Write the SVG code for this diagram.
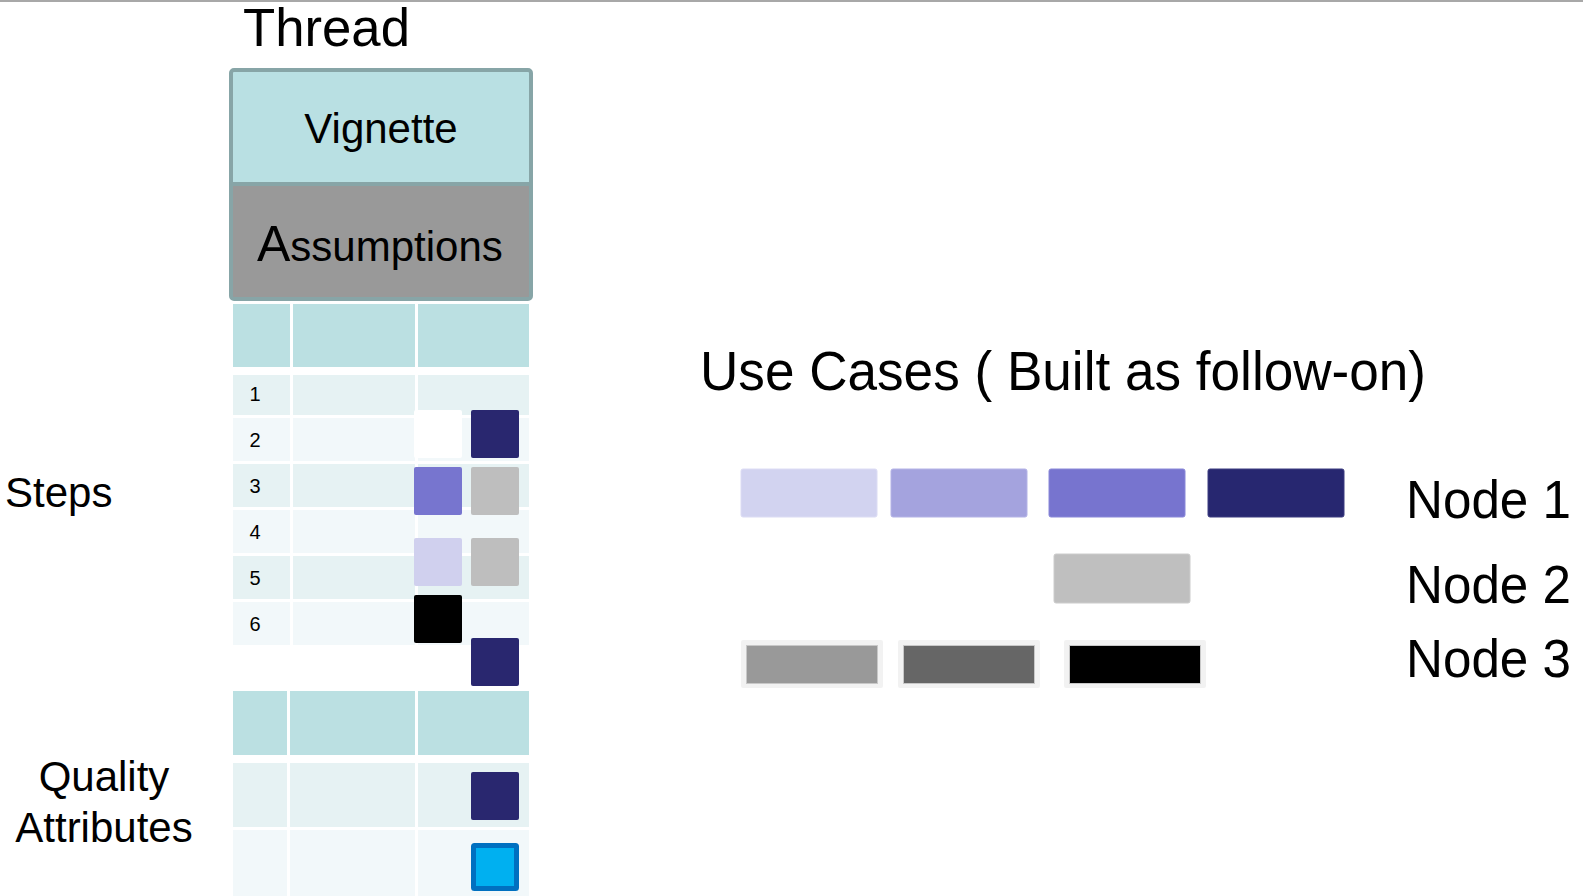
<svg xmlns="http://www.w3.org/2000/svg" width="1583" height="896" viewBox="0 0 1583 896">
<style>
text{font-family:"Liberation Sans",Arial,sans-serif;fill:#000}
.hdr{fill:#bbe0e2}
.dk{fill:#e6f2f3}
.lt{fill:#f2f8fa}
.num{font-size:20px;text-anchor:middle}
.lbl{font-size:42px}
.sq{stroke:none}
.bar{stroke-width:1}
.n3o{fill:#f2f2f2}
.n3i{stroke:#c8c8c8;stroke-width:1}
.node{font-size:53px}
</style>
<rect x="0" y="0" width="1583" height="896" fill="#ffffff"/>
<rect id="topline" x="0" y="0" width="1583" height="2" fill="#a8a8a8"/>

<g id="thread-title"><text x="243" y="46" font-size="53" textLength="167" lengthAdjust="spacingAndGlyphs">Thread</text></g>

<g id="vignette-assumptions">
  <rect x="231" y="70" width="300" height="114" fill="#b9e0e3"/>
  <rect x="231" y="184" width="300" height="115" fill="#999999"/>
  <rect x="231" y="70" width="300" height="229" rx="3" fill="none" stroke="#87a5a7" stroke-width="4"/>
  <line x1="231" y1="184" x2="531" y2="184" stroke="#87a5a7" stroke-width="4"/>
  <text x="381" y="143" font-size="42" text-anchor="middle">Vignette</text>
  <text x="257" y="261"><tspan font-size="50">A</tspan><tspan font-size="42">ssumptions</tspan></text>
</g>

<g id="steps-table">
  <rect class="hdr" x="233" y="304" width="57" height="63"/>
  <rect class="hdr" x="293" y="304" width="122" height="63"/>
  <rect class="hdr" x="418" y="304" width="111" height="63"/>

  <rect class="dk" x="233" y="375" width="57" height="40"/>
  <rect class="dk" x="293" y="375" width="122" height="40"/>
  <rect class="dk" x="418" y="375" width="111" height="40"/>

  <rect class="lt" x="233" y="418" width="57" height="43"/>
  <rect class="lt" x="293" y="418" width="122" height="43"/>
  <rect class="lt" x="418" y="418" width="111" height="43"/>

  <rect class="dk" x="233" y="464" width="57" height="43"/>
  <rect class="dk" x="293" y="464" width="122" height="43"/>
  <rect class="dk" x="418" y="464" width="111" height="43"/>

  <rect class="lt" x="233" y="510" width="57" height="43"/>
  <rect class="lt" x="293" y="510" width="122" height="43"/>
  <rect class="lt" x="418" y="510" width="111" height="43"/>

  <rect class="dk" x="233" y="556" width="57" height="43"/>
  <rect class="dk" x="293" y="556" width="122" height="43"/>
  <rect class="dk" x="418" y="556" width="111" height="43"/>

  <rect class="lt" x="233" y="602" width="57" height="43"/>
  <rect class="lt" x="293" y="602" width="122" height="43"/>
  <rect class="lt" x="418" y="602" width="111" height="43"/>

  <text class="num" x="255" y="401">1</text>
  <text class="num" x="255" y="447">2</text>
  <text class="num" x="255" y="493">3</text>
  <text class="num" x="255" y="539">4</text>
  <text class="num" x="255" y="585">5</text>
  <text class="num" x="255" y="631">6</text>

  <rect class="sq" x="414" y="410" width="48" height="48" rx="2" fill="#ffffff"/>
  <rect class="sq" x="471" y="410" width="48" height="48" rx="2" fill="#29276f"/>
  <rect class="sq" x="414" y="467" width="48" height="48" rx="2" fill="#7775cf"/>
  <rect class="sq" x="471" y="467" width="48" height="48" rx="2" fill="#bebebe"/>
  <rect class="sq" x="414" y="538" width="48" height="48" rx="2" fill="#d0d0ee"/>
  <rect class="sq" x="471" y="538" width="48" height="48" rx="2" fill="#bebebe"/>
  <rect class="sq" x="414" y="595" width="48" height="48" rx="2" fill="#000000"/>
  <rect class="sq" x="471" y="638" width="48" height="48" rx="2" fill="#29276f"/>
</g>

<g id="qa-table">
  <rect class="hdr" x="233" y="691" width="54" height="64"/>
  <rect class="hdr" x="290" y="691" width="125" height="64"/>
  <rect class="hdr" x="418" y="691" width="111" height="64"/>

  <rect class="dk" x="233" y="763" width="54" height="64"/>
  <rect class="dk" x="290" y="763" width="125" height="64"/>
  <rect class="dk" x="418" y="763" width="111" height="64"/>

  <rect class="lt" x="233" y="830" width="54" height="66"/>
  <rect class="lt" x="290" y="830" width="125" height="66"/>
  <rect class="lt" x="418" y="830" width="111" height="66"/>

  <rect class="sq" x="471" y="772" width="48" height="48" rx="2" fill="#29276f"/>
  <rect x="473.5" y="845.5" width="43" height="43" rx="1" fill="#00b0f0" stroke="#0070c0" stroke-width="5"/>
</g>

<g id="steps-label"><text class="lbl" x="5" y="507">Steps</text></g>
<g id="qa-label">
  <text class="lbl" x="104" y="791" text-anchor="middle">Quality</text>
  <text class="lbl" x="104" y="842" text-anchor="middle">Attributes</text>
</g>

<g id="use-cases-title"><text x="700" y="390" font-size="56" textLength="726" lengthAdjust="spacingAndGlyphs">Use Cases ( Built as follow-on)</text></g>

<g id="node1">
  <rect class="bar" x="741" y="469" width="136" height="48" rx="2" fill="#d2d3f0" stroke="#dcdcf4"/>
  <rect class="bar" x="891" y="469" width="136" height="48" rx="2" fill="#a4a3de" stroke="#b4b3e6"/>
  <rect class="bar" x="1049" y="469" width="136" height="48" rx="2" fill="#7774cf" stroke="#8a88d8"/>
  <rect class="bar" x="1208" y="469" width="136" height="48" rx="2" fill="#272770" stroke="#3c3c80"/>
  <text class="node" x="1406" y="518" textLength="165" lengthAdjust="spacingAndGlyphs">Node 1</text>
</g>

<g id="node2">
  <rect class="bar" x="1054" y="554" width="136" height="49" rx="2" fill="#bfbfbf" stroke="#cccccc"/>
  <text class="node" x="1406" y="603" textLength="165" lengthAdjust="spacingAndGlyphs">Node 2</text>
</g>

<g id="node3">
  <rect class="n3o" x="741" y="640" width="142" height="48" rx="2"/>
  <rect class="n3i" x="746.5" y="645.5" width="131" height="38" fill="#999999"/>
  <rect class="n3o" x="898" y="640" width="142" height="48" rx="2"/>
  <rect class="n3i" x="903.5" y="645.5" width="131" height="38" fill="#666666"/>
  <rect class="n3o" x="1064" y="640" width="142" height="48" rx="2"/>
  <rect class="n3i" x="1069.5" y="645.5" width="131" height="38" fill="#000000"/>
  <text class="node" x="1406" y="677" textLength="165" lengthAdjust="spacingAndGlyphs">Node 3</text>
</g>

<g id="connectors"></g>
</svg>
